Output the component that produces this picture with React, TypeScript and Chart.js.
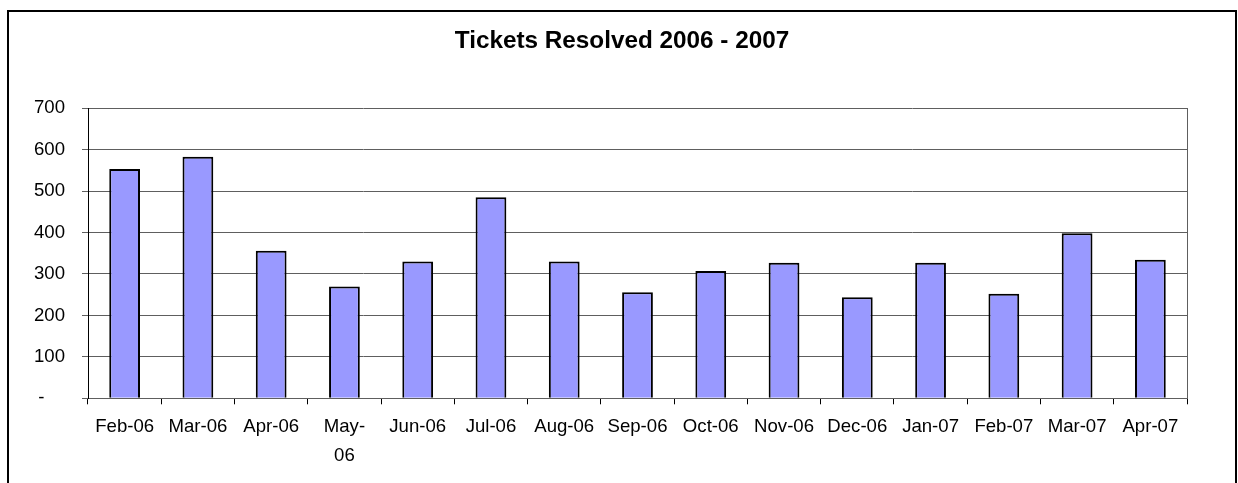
import React, { useEffect, useRef } from 'react';
import { Chart, registerables } from 'chart.js';

Chart.register(...registerables);

const chartTitle = 'Tickets Resolved 2006 - 2007';
const categories: (string | string[])[] = [
  'Feb-06', 'Mar-06', 'Apr-06', ['May-', '06'], 'Jun-06', 'Jul-06', 'Aug-06',
  'Sep-06', 'Oct-06', 'Nov-06', 'Dec-06', 'Jan-07', 'Feb-07', 'Mar-07', 'Apr-07',
];
const ticketsResolved = [553, 583, 356, 270, 330, 485, 330, 256, 307, 327, 244, 327, 252, 398, 334];
const yMin = 0;
const yMax = 700;
const yStep = 100;
const zeroLabel = '-    ';

const FONT = "'Liberation Sans', Arial, sans-serif";
const GRID = '#5e5e5e';

export default function App() {
  const canvasRef = useRef<HTMLCanvasElement | null>(null);

  useEffect(() => {
    const canvas = canvasRef.current;
    if (!canvas) return;
    const chart = new Chart(canvas, {
      type: 'bar',
      data: {
        labels: categories as any,
        datasets: [
          {
            label: 'Tickets Resolved',
            data: ticketsResolved,
            backgroundColor: '#9999FF',
            borderColor: '#000000',
            borderWidth: 2,
            barPercentage: 0.42,
            categoryPercentage: 1,
          },
        ],
      },
      options: {
        animation: false,
        responsive: true,
        maintainAspectRatio: false,
        layout: { padding: { left: 6, right: 0, top: 0, bottom: 0 } },
        plugins: {
          legend: { display: false },
          tooltip: { enabled: false },
          title: {
            display: true,
            text: chartTitle,
            color: '#000',
            font: { family: FONT, size: 24.3, weight: 'bold', lineHeight: 1.2 },
            padding: { top: 27, bottom: 52 },
          },
        },
        scales: {
          x: {
            grid: {
              display: true,
              drawOnChartArea: false,
              drawTicks: true,
              tickLength: 6,
              tickColor: '#000',
              offset: true,
            },
            border: { display: true, color: GRID, width: 1 },
            ticks: {
              color: '#000',
              font: { family: FONT, size: 18.6, lineHeight: 1.55 },
              padding: 8,
              maxRotation: 0,
              minRotation: 0,
              autoSkip: false,
            },
            afterFit: (s: any) => {
              s.height = 84.7;
            },
          },
          y: {
            min: yMin,
            max: yMax,
            grid: {
              color: GRID,
              lineWidth: 1,
              tickLength: 6,
              tickColor: GRID,
            },
            border: { display: true, color: '#000', width: 1 },
            ticks: {
              stepSize: yStep,
              color: '#000',
              font: { family: FONT, size: 18.6 },
              padding: 17,
              callback: (v: any) => (Number(v) === 0 ? zeroLabel : String(v)),
            },
            afterFit: (s: any) => {
              s.width = 82;
            },
          },
          y2: {
            position: 'right',
            min: yMin,
            max: yMax,
            grid: { drawOnChartArea: false, drawTicks: false },
            border: { display: true, color: GRID, width: 1 },
            ticks: { display: false },
            afterFit: (s: any) => {
              s.width = 51;
            },
          },
        },
      } as any,
    });
    return () => chart.destroy();
  }, []);

  return (
    <>
      <div style={{ position: 'fixed', left: 0, top: 0, width: 1238, height: 483, background: '#fff' }}>
        <canvas ref={canvasRef} />
      </div>
      <div
        style={{
          position: 'fixed',
          left: 7,
          top: 10,
          width: 1230,
          height: 500,
          border: '2px solid #000',
          boxSizing: 'border-box',
          pointerEvents: 'none',
        }}
      />
    </>
  );
}
